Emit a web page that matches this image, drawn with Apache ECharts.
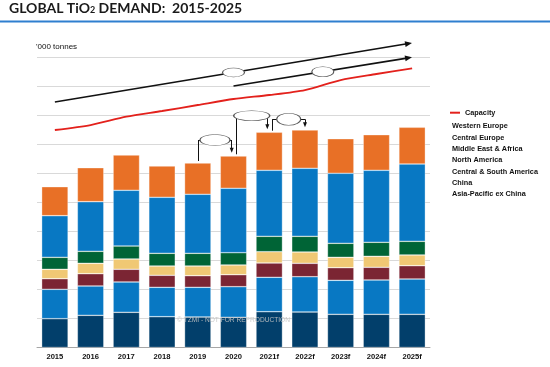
<!DOCTYPE html>
<html><head><meta charset="utf-8">
<script src="https://cdn.jsdelivr.net/npm/echarts@6/dist/echarts.min.js"></script>
<style>html,body{margin:0;padding:0;background:#fff}#c{width:550px;height:367px}</style>
</head><body><div id="c"></div>
<script>
// ---- data ('000 tonnes) ----
const categories = ['2015','2016','2017','2018','2019','2020','2021f','2022f','2023f','2024f','2025f'];
const westernEurope       = [1000,1172,1217,1080,1079,1113,1311,1321,1193,1228,1265];
const centralEurope       = [1435,1711,1921,1931,2035,2221,2276,2345,2414,2482,2666];
const middleEastAfrica    = [413,414,448,438,438,424,531,541,483,483,472];
const northAmerica        = [325,358,355,320,334,335,389,390,358,379,369];
const centralSouthAmerica = [365,424,438,414,400,413,493,462,435,438,459];
const china               = [1014,1011,1045,1014,1024,1056,1187,1217,1172,1183,1217];
const asiaPacificExChina  = [993,1110,1214,1062,1052,1041,1234,1224,1145,1145,1145];
const capacity            = [7500,7672,7959,8155,8362,8569,8707,8879,9224,9431,9628];
const legendNames = ['Western Europe','Central Europe','Middle East & Africa','North America','Central & South America','China','Asia-Pacific ex China'];

// annotations in data units (x = category index, y = '000 t)
const trendArrows = [ [[0,8466],[9.9,10480]], [[5,9017],[9.9,9988]] ];
const trendBubbles = [[5.0,9483],[7.5,9510]];
const calloutPaths = [
  [[4.015,6431],[4.015,7155],[4.950,7155],[4.950,6803]],
  [[5.070,6662],[5.070,7993],[5.946,7993],[5.946,7610]],
  [[6.086,7476],[6.086,7869],[7.001,7869],[7.001,7679]]
];
const calloutBubbles = [[4.482,7155],[5.510,7993],[6.545,7869]];

const FONT = 'Liberation Sans, Arial, sans-serif';
const chart = echarts.init(document.getElementById('c'), null, {renderer:'canvas'});

const segs = [];
trendArrows.forEach(p => {
  segs.push([{coord:p[0], symbol:'none'}, {coord:p[1], symbol:'triangle', symbolSize:[6,7]}]);
});
calloutPaths.forEach(path => {
  for (let i = 0; i < path.length - 1; i++) {
    const last = i === path.length - 2;
    segs.push([{coord:path[i], symbol:'none', lineStyle:{width:1}},
               {coord:path[i+1], symbol: last ? 'triangle' : 'none', symbolSize:[4,5]}]);
  }
});
const ellipse = 'path://M0 1A1 1 0 1 0 2 1A1 1 0 1 0 0 1Z';
const bubbleData = [
  {value: trendBubbles[0], symbolSize:[22,9]},
  {value: trendBubbles[1], symbolSize:[22,10]},
  {value: calloutBubbles[0], symbolSize:[30,11]},
  {value: calloutBubbles[1], symbolSize:[36,10]},
  {value: calloutBubbles[2], symbolSize:[24,12]}
];

function bar(name, data, color) {
  return {name, type:'bar', stack:'total', data, barWidth:'74%',
    itemStyle:{color, borderColor:'rgba(255,255,255,0.55)', borderWidth:0.6}};
}
const legendText = {fontSize:7.3, fontWeight:'bold', color:'#111', fontFamily:FONT, lineHeight:9};

chart.setOption({
  animation:false,
  title:{
    text:'{a|GLOBAL TiO}{s|2}{a| DEMAND:  2015-2025}',
    left:9, top:0, padding:0,
    textStyle:{rich:{
      a:{fontFamily:'Lato, sans-serif', fontWeight:'bold', fontSize:14, color:'#1a1a1a', lineHeight:16},
      s:{fontFamily:'Lato, sans-serif', fontWeight:'bold', fontSize:9, color:'#1a1a1a', lineHeight:16, padding:[5,0,0,0]}
    }}
  },
  graphic:[
    {type:'line', shape:{x1:0,y1:21.5,x2:550,y2:21.5}, style:{stroke:'#2f7fcf', lineWidth:2}},
    {type:'text', left:36, top:43, style:{text:"'000 tonnes", font:'8px '+FONT, fill:'#111'}},
    {type:'text', left:177, top:317, z:100, style:{text:'\u00A9 TZMI - NOT FOR REPRODUCTION', font:'6.6px '+FONT, fill:'rgba(195,195,195,0.9)'}}
  ],
  legend:[
    {data:[{name:'Capacity', icon:'rect'}], left:450, top:108.2, padding:0, itemWidth:10, itemHeight:2,
     selectedMode:false, textStyle:legendText},
    {data:legendNames, orient:'vertical', left:446, top:121.8, padding:0, itemWidth:0, itemHeight:5, itemGap:2.3,
     selectedMode:false, itemStyle:{opacity:0}, textStyle:legendText}
  ],
  grid:[
    {left:37, right:120, top:57.5, bottom:19.5},
    {left:37, right:120, top:28.5, bottom:19.5}
  ],
  xAxis:[
    {type:'category', data:categories, gridIndex:0,
     axisLine:{lineStyle:{color:'#a6a6a6'}}, axisTick:{length:4, lineStyle:{color:'#a6a6a6'}},
     axisLabel:{fontSize:7.6, fontWeight:'bold', color:'#111', fontFamily:FONT, margin:5}},
    {type:'value', gridIndex:1, min:-0.5, max:10.5, show:false}
  ],
  yAxis:[
    {type:'value', gridIndex:0, min:0, max:10000, interval:1000,
     axisLabel:{show:false}, axisLine:{show:false}, axisTick:{show:false},
     splitLine:{lineStyle:{color:'#d9d9d9', width:1}}},
    {type:'value', gridIndex:1, min:0, max:11000, show:false, splitLine:{show:false}}
  ],
  series:[
    bar('Asia-Pacific ex China', asiaPacificExChina, '#023f6b'),
    bar('China', china, '#0878c3'),
    bar('Central & South America', centralSouthAmerica, '#7b2533'),
    bar('North America', northAmerica, '#f0c874'),
    bar('Middle East & Africa', middleEastAfrica, '#006436'),
    bar('Central Europe', centralEurope, '#0878c3'),
    bar('Western Europe', westernEurope, '#e87026'),
    {name:'Capacity', type:'line', data:capacity, symbol:'none', smooth:0.25, z:4,
     lineStyle:{color:'#e3211c', width:1.8}, itemStyle:{color:'#e3211c'}},
    {type:'scatter', xAxisIndex:1, yAxisIndex:1, data:[], silent:true,
     markLine:{silent:true, animation:false, label:{show:false}, emphasis:{disabled:true},
       lineStyle:{color:'#111', width:1.6, type:'solid'}, itemStyle:{color:'#111'},
       data:segs}},
    {type:'scatter', xAxisIndex:1, yAxisIndex:1, data:bubbleData, symbol:ellipse, z:20, silent:true,
     itemStyle:{color:'#fff', borderColor:'#555', borderWidth:0.8, opacity:1}}
  ]
});
</script></body></html>
